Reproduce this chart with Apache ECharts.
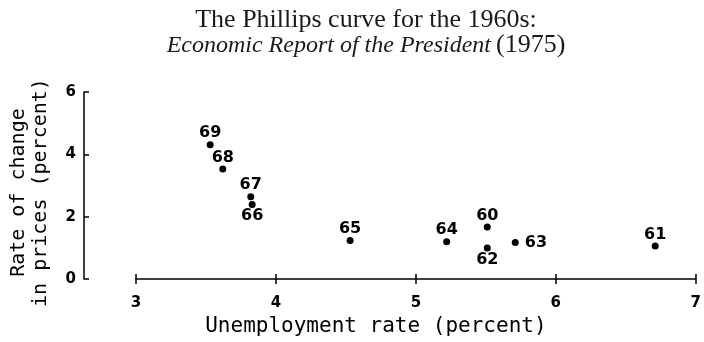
<!DOCTYPE html>
<html>
<head>
<meta charset="utf-8">
<script src="https://cdn.jsdelivr.net/npm/echarts@6/dist/echarts.min.js"></script>
<style>
  html, body { margin: 0; padding: 0; background: #fff; }
  #chart { width: 704px; height: 342px; }
</style>
</head>
<body>
<div id="chart"></div>
<script>
// Phillips curve, 1960s: unemployment vs. inflation by year
const years = ['60', '61', '62', '63', '64', '65', '66', '67', '68', '69'];
const unemployment = [5.51, 6.71, 5.51, 5.71, 5.22, 4.53, 3.83, 3.82, 3.62, 3.53];
const priceChange = [1.67, 1.06, 1.00, 1.17, 1.20, 1.24, 2.39, 2.64, 3.53, 4.31];
const xTicks = [3, 4, 5, 6, 7];
const yTicks = [0, 2, 4, 6];

// which side of its dot each year label sits
const labelSide = { '62': 'bottom', '66': 'bottom', '63': 'right' };

const ink = '#000';
const letterFont = 'DejaVu Sans Mono';

const points = years.map((yr, i) => {
  const side = labelSide[yr] || 'top';
  return {
    value: [unemployment[i], priceChange[i]],
    name: yr,
    label: {
      position: side,
      distance: side === 'right' ? 6 : 0
    }
  };
});

const chart = echarts.init(document.getElementById('chart'), null, { renderer: 'canvas' });

chart.setOption({
  backgroundColor: '#fff',
  animation: false,
  title: {
    text: '{a|The Phillips curve for the 1960s:}\n{b|Economic Report of the President} {a|(1975)}',
    left: 361,
    top: 3,
    textAlign: 'center',
    textStyle: {
      fontWeight: 'normal',
      rich: {
        a: { fontFamily: 'Liberation Serif', fontSize: 26, fontWeight: 'normal', color: '#1a1a1a', lineHeight: 25 },
        b: { fontFamily: 'Liberation Serif', fontSize: 24, fontWeight: 'normal', fontStyle: 'italic', color: '#1a1a1a', lineHeight: 25 }
      }
    }
  },
  grid: { left: 136, right: 5, top: 92, bottom: 59, containLabel: false },
  xAxis: [
    {
      type: 'value',
      min: xTicks[0],
      max: xTicks[xTicks.length - 1],
      interval: 1,
      position: 'bottom',
      axisLine: { show: true, lineStyle: { color: ink, width: 1.5 } },
      axisTick: { show: true, length: 5, lineStyle: { color: ink, width: 1.5 } },
      axisLabel: {
        margin: 17,
        color: ink,
        fontFamily: 'DejaVu Sans',
        fontWeight: 'bold',
        fontSize: 15
      },
      splitLine: { show: false },
      name: 'Unemployment rate (percent)',
      nameLocation: 'middle',
      nameGap: 36,
      nameTextStyle: {
        fontFamily: letterFont,
        fontSize: 21,
        color: ink,
        padding: [0, 80, 0, 0]
      }
    },
    {
      // upper half of the crossing ticks on the unemployment axis
      type: 'value',
      min: xTicks[0],
      max: xTicks[xTicks.length - 1],
      interval: 1,
      position: 'bottom',
      axisLine: { show: false },
      axisTick: { show: true, inside: true, length: 5, lineStyle: { color: ink, width: 1.5 } },
      axisLabel: { show: false },
      splitLine: { show: false }
    }
  ],
  yAxis: {
    type: 'value',
    min: yTicks[0],
    max: yTicks[yTicks.length - 1],
    interval: 2,
    offset: 52,
    axisLine: { show: true, lineStyle: { color: ink, width: 1.5 } },
    axisTick: { show: true, inside: true, length: 5, lineStyle: { color: ink, width: 1.5 } },
    axisLabel: {
      margin: 8,
      color: ink,
      fontFamily: 'DejaVu Sans',
      fontWeight: 'bold',
      fontSize: 15
    },
    splitLine: { show: false },
    name: 'Rate of change\nin prices (percent)',
    nameLocation: 'middle',
    nameRotate: 90,
    nameGap: 32,
    nameTextStyle: {
      fontFamily: letterFont,
      fontSize: 20,
      color: ink,
      lineHeight: 22,
      padding: [0, 14, 0, 0]
    }
  },
  series: [{
    type: 'scatter',
    xAxisIndex: 0,
    data: points,
    symbol: 'circle',
    symbolSize: 7,
    itemStyle: { color: ink, opacity: 1 },
    label: {
      show: true,
      formatter: p => p.name,
      color: ink,
      fontFamily: 'DejaVu Sans',
      fontWeight: 'bold',
      fontSize: 16
    }
  }]
});
</script>
</body>
</html>
